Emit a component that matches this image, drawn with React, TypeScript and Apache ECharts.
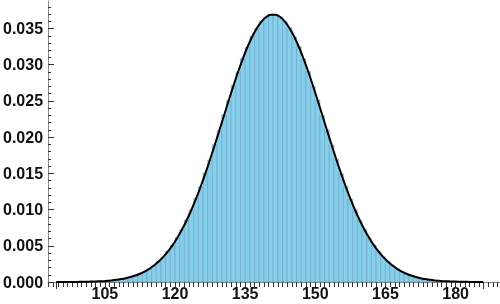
import React, { useEffect, useRef } from "react";
import * as echarts from "echarts";

// Histogram: bins of width 1 starting at 95
const binStart = 95;
const binWidth = 1;
const barHeights = [
  0, 0, 0.00001, 0.00001, 0.00002, 0.00003, 0.00004, 0.00006, 0.00009, 0.00012,
  0.00016, 0.00023, 0.0003, 0.00041, 0.00051, 0.00069, 0.00088, 0.00115, 0.00143, 0.00183,
  0.00226, 0.00284, 0.00345, 0.00424, 0.00507, 0.00613, 0.00722, 0.00855, 0.00991, 0.01155,
  0.01315, 0.01506, 0.01687, 0.01897, 0.02092, 0.02309, 0.02505, 0.02715, 0.02898, 0.03088,
  0.03241, 0.03392, 0.03501, 0.036, 0.03655, 0.03694,
  0.03686, 0.03662, 0.03592, 0.03509, 0.03383, 0.03249, 0.03078, 0.02907, 0.02706, 0.02513,
  0.02299, 0.021, 0.01887, 0.01695, 0.01496, 0.01322, 0.01147, 0.00997, 0.00849, 0.00727,
  0.00607, 0.00511, 0.0042, 0.00348, 0.0028, 0.00229, 0.0018, 0.00145, 0.00113, 0.0009,
  0.00067, 0.00053, 0.00039, 0.0003, 0.00022, 0.00017, 0.00012, 0.00009, 0.00006, 0.00004,
  0.00003, 0.00002, 0.00001, 0.00001, 0,
];

// Density curve sampled at the bin centres
const curveStart = 95.5;
const curveValues = [
  0, 0, 0.00001, 0.00001, 0.00002, 0.00003, 0.00005, 0.00006, 0.00009, 0.00012,
  0.00017, 0.00022, 0.0003, 0.0004, 0.00052, 0.00068, 0.00089, 0.00114, 0.00144, 0.00182,
  0.00227, 0.00282, 0.00346, 0.00422, 0.00509, 0.0061, 0.00724, 0.00852, 0.00994, 0.0115,
  0.01319, 0.015, 0.01691, 0.01891, 0.02096, 0.02303, 0.02509, 0.0271, 0.02903, 0.03082,
  0.03245, 0.03387, 0.03505, 0.03596, 0.03659, 0.0369,
  0.0369, 0.03659, 0.03596, 0.03505, 0.03387, 0.03245, 0.03082, 0.02903, 0.0271, 0.02509,
  0.02303, 0.02096, 0.01891, 0.01691, 0.015, 0.01319, 0.0115, 0.00994, 0.00852, 0.00724,
  0.0061, 0.00509, 0.00422, 0.00346, 0.00282, 0.00227, 0.00182, 0.00144, 0.00114, 0.00089,
  0.00068, 0.00052, 0.0004, 0.0003, 0.00022, 0.00017, 0.00012, 0.00009, 0.00006, 0.00005,
  0.00003, 0.00002, 0.00001, 0.00001, 0,
];
const plotRange = [94.6, 185.9];

const xMin = 92.85;
const xMax = 189.5;
const xLabels = [105, 120, 135, 150, 165, 180];
const xTickFirst = 93;
const xTickLast = 189;

const yMin = 0;
const yMax = 0.0388;
const yLabels = [0, 0.005, 0.01, 0.015, 0.02, 0.025, 0.03, 0.035];
const yMinorStep = 0.001;

const FONT = "'Liberation Sans', Arial, sans-serif";

export default function App() {
  const ref = useRef<HTMLDivElement>(null);
  useEffect(() => {
    document.body.style.margin = "0";
    const chart = echarts.init(ref.current!, null, { renderer: "svg" });

    const barData = barHeights.map((h, i) => [
      binStart + i * binWidth,
      binStart + (i + 1) * binWidth,
      h,
    ]);
    const curveData: number[][] = [[plotRange[0], 0]];
    curveValues.forEach((v, i) => curveData.push([curveStart + i * binWidth, v]));
    curveData.push([plotRange[1], 0]);

    const xTicks: number[] = [];
    for (let v = xTickFirst; v <= xTickLast; v++) xTicks.push(v);
    const yMinor: number[] = [];
    for (let k = 1; k * yMinorStep < yMax; k++) {
      if (k % 5 !== 0) yMinor.push(+(k * yMinorStep).toFixed(4));
    }

    chart.setOption({
      animation: false,
      grid: { left: 46, right: 0, top: 1, bottom: 22, containLabel: false },
      xAxis: [
        {
          type: "value",
          min: xMin,
          max: xMax,
          axisLine: { show: true, lineStyle: { color: "#8a8a8a", width: 1 } },
          axisTick: {
            show: true,
            inside: false,
            length: 5,
            customValues: xTicks,
            lineStyle: { color: "#333", width: 1 },
          },
          axisLabel: {
            show: true,
            customValues: xLabels,
            margin: 3,
            fontFamily: FONT,
            fontWeight: "bold",
            fontSize: 16,
            color: "#111",
          },
          splitLine: { show: false },
        },
        {
          type: "value",
          position: "bottom",
          min: xMin,
          max: xMax,
          axisLine: { show: false },
          axisTick: {
            show: true,
            inside: false,
            length: 7,
            customValues: plotRange,
            lineStyle: { color: "#333", width: 1 },
          },
          axisLabel: { show: false },
          splitLine: { show: false },
        },
      ],
      yAxis: [
        {
          type: "value",
          min: yMin,
          max: yMax,
          axisLine: { show: true, lineStyle: { color: "#8a8a8a", width: 1 } },
          axisTick: {
            show: true,
            inside: true,
            length: 6,
            customValues: yLabels,
            lineStyle: { color: "#333", width: 1 },
          },
          axisLabel: {
            show: true,
            customValues: yLabels,
            margin: 5,
            formatter: (v: number) => v.toFixed(3),
            fontFamily: FONT,
            fontWeight: "bold",
            fontSize: 16,
            color: "#111",
          },
          splitLine: { show: false },
        },
        {
          type: "value",
          position: "left",
          min: yMin,
          max: yMax,
          axisLine: { show: false },
          axisTick: {
            show: true,
            inside: true,
            length: 3,
            customValues: yMinor,
            lineStyle: { color: "#333", width: 1 },
          },
          axisLabel: { show: false },
          splitLine: { show: false },
        },
      ],
      series: [
        {
          type: "custom",
          xAxisIndex: 0,
          yAxisIndex: 0,
          data: barData,
          renderItem: (params: any, api: any) => {
            const x0 = api.value(0);
            const x1 = api.value(1);
            const h = api.value(2);
            if (h <= 0) return null;
            const p0 = api.coord([x0, h]);
            const p1 = api.coord([x1, 0]);
            return {
              type: "rect",
              shape: { x: p0[0], y: p0[1], width: p1[0] - p0[0], height: p1[1] - p0[1] },
              style: { fill: "#87CEEB", stroke: "rgba(90,150,185,0.75)", lineWidth: 0.6 },
            };
          },
          z: 2,
        },
        {
          type: "line",
          xAxisIndex: 0,
          yAxisIndex: 0,
          data: curveData,
          smooth: 0.3,
          showSymbol: false,
          lineStyle: { color: "#000", width: 2 },
          z: 3,
        },
      ],
    });
    return () => chart.dispose();
  }, []);
  return (
    <div
      ref={ref}
      style={{ position: "fixed", left: 0, top: 0, width: 500, height: 304 }}
    />
  );
}
